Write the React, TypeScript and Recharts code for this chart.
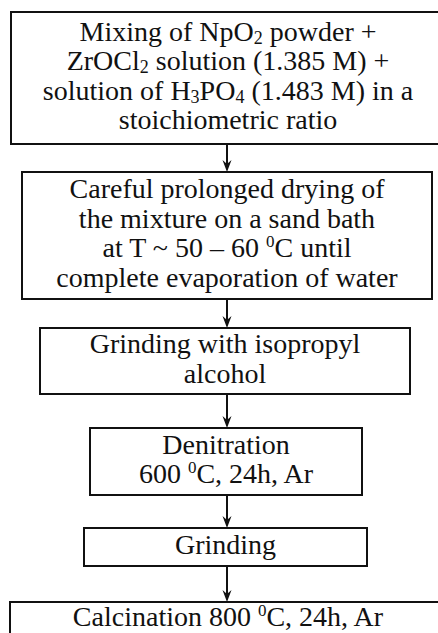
import React from 'react';
import { ComposedChart, XAxis, YAxis, ReferenceArea, ReferenceLine } from 'recharts';

// Text of each step, _{..} = subscript, ^{..} = superscript
const stepText: string[][] = [
    ['Mixing of NpO_{2} powder +', 'ZrOCl_{2} solution (1.385 M) +', 'solution of H_{3}PO_{4} (1.483 M) in a', 'stoichiometric ratio'],
    ['Careful prolonged drying of', 'the mixture on a sand bath', 'at T ~ 50 – 60 ^{0}C until', 'complete evaporation of water'],
    ['Grinding with isopropyl', 'alcohol'],
    ['Denitration', '600 ^{0}C, 24h, Ar'],
    ['Grinding'],
    ['Calcination 800 ^{0}C, 24h, Ar'],
];

// Box extents in chart units (x: 0..438, y: 0..633 top-down)
const boxLeft = [11, 22, 40, 90, 84, 10];
const boxRight = [445, 432, 410, 362, 367, 446];
const boxTop = [12, 172, 328, 428, 528, 602];
const boxBottom = [144, 299, 394, 495, 566, 636];

const flowX = 227;

const FONT = '"Liberation Serif", "Times New Roman", serif';
const FONT_SIZE = 28;
const LINE_H = 29.5;

const renderLine = (line: string) => {
    const parts = line.split(/(_\{[^}]*\}|\^\{[^}]*\})/).filter(p => p !== '');
    const out: React.ReactNode[] = [];
    let shift = 0;
    parts.forEach((p, i) => {
        if (p.startsWith('_{')) {
            out.push(<tspan key={i} dy={3 - shift} fontSize={18}>{p.slice(2, -1)}</tspan>);
            shift = 3;
        } else if (p.startsWith('^{')) {
            out.push(<tspan key={i} dy={-10 - shift} fontSize={17}>{p.slice(2, -1)}</tspan>);
            shift = -10;
        } else {
            out.push(<tspan key={i} dy={-shift}>{p}</tspan>);
            shift = 0;
        }
    });
    return out;
};

const StepBox = (props: any) => {
    const { x, y, width, height, lines } = props;
    const cx = x + width / 2;
    const cy = y + height / 2;
    const n = lines.length;
    return (
        <g>
            <rect x={x} y={y} width={width} height={height} fill="#fff" stroke="#111" strokeWidth={2} />
            {lines.map((line: string, i: number) => (
                <text
                    key={i}
                    x={cx}
                    y={cy + 7 + (i - (n - 1) / 2) * LINE_H}
                    textAnchor="middle"
                    fontFamily={FONT}
                    fontSize={FONT_SIZE}
                    fill="#111"
                >
                    {renderLine(line)}
                </text>
            ))}
        </g>
    );
};

const Arrow = (props: any) => {
    const { x1, y1, x2, y2 } = props;
    return (
        <g>
            <line x1={x1} y1={y1} x2={x2} y2={y2 - 6} stroke="#111" strokeWidth={2} />
            <path d={`M${x2},${y2} L${x2 - 4.5},${y2 - 12} L${x2},${y2 - 8} L${x2 + 4.5},${y2 - 12} Z`} fill="#111" />
        </g>
    );
};

const App = () => {
    const points = stepText.map((t, i) => ({ x: flowX, y: (boxTop[i] + boxBottom[i]) / 2 }));
    return (
        <div style={{ width: 438, height: 633, background: '#fff' }}>
            <style>{'body{margin:0}'}</style>
            <ComposedChart width={438} height={633} data={points} margin={{ top: 0, right: 0, bottom: 0, left: 0 }}>
                <XAxis type="number" dataKey="x" domain={[0, 438]} hide allowDataOverflow />
                <YAxis type="number" dataKey="y" domain={[0, 633]} reversed hide allowDataOverflow />
                {stepText.slice(1).map((t, i) => (
                    <ReferenceLine
                        key={`a-${i}`}
                        segment={[{ x: flowX, y: boxBottom[i] }, { x: flowX, y: boxTop[i + 1] }]}
                        ifOverflow="visible"
                        shape={(p: any) => <Arrow {...p} />}
                    />
                ))}
                {stepText.map((lines, i) => (
                    <ReferenceArea
                        key={`b-${i}`}
                        x1={boxLeft[i]}
                        x2={boxRight[i]}
                        y1={boxTop[i]}
                        y2={boxBottom[i]}
                        ifOverflow="hidden"
                        shape={(p: any) => <StepBox {...p} lines={lines} />}
                    />
                ))}
            </ComposedChart>
        </div>
    );
};

export default App;
